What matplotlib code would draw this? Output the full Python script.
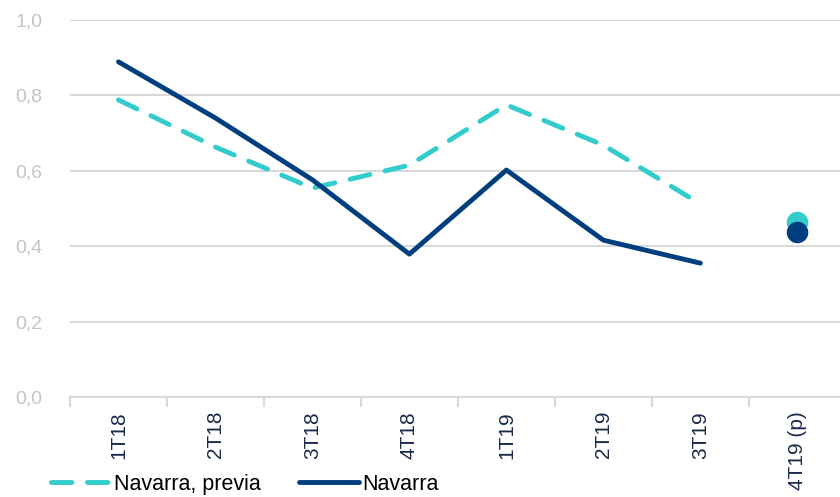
import numpy as np
import matplotlib
matplotlib.use("Agg")
import matplotlib.pyplot as plt

# Datos
trimestres = ["1T18", "2T18", "3T18", "4T18", "1T19", "2T19", "3T19", "4T19 (p)"]
navarra_previa = [0.788, 0.663, 0.554, 0.615, 0.775, 0.668, 0.512]
navarra = [0.889, 0.740, 0.576, 0.379, 0.602, 0.416, 0.355]
prev_4t19_previa = 0.464
prev_4t19 = 0.438

TEAL = "#33CCCC"
NAVY = "#003F7F"
GRID = "#D9D9D9"

plt.rcParams["font.family"] = ["Liberation Sans", "DejaVu Sans"]

fig = plt.figure(figsize=(8.4, 4.97), dpi=100)
ax = fig.add_axes([70 / 840, 100 / 497, 770 / 840, 377 / 497])

x = np.arange(len(navarra))
ax.plot(x, navarra_previa, color=TEAL, lw=3.5, dashes=(4.2, 3.2),
        dash_capstyle="round", label="Navarra, previa", zorder=3)
ax.plot(x, navarra, color=NAVY, lw=3.5, solid_capstyle="round",
        label="Navarra", zorder=4)
ax.plot([7], [prev_4t19_previa], "o", color=TEAL, ms=14.5, zorder=5)
ax.plot([7], [prev_4t19], "o", color=NAVY, ms=14.5, zorder=6)

ax.set_ylim(0, 1.0)
ax.set_xlim(-0.5, 7.44)
ax.set_yticks(np.arange(0, 1.01, 0.2))
ax.set_yticklabels([f"{v:.1f}".replace(".", ",") for v in np.arange(0, 1.01, 0.2)])
ax.yaxis.grid(True, color=GRID, lw=1.5)
ax.set_axisbelow(True)
ax.tick_params(axis="y", length=0, pad=20, labelsize=14, labelcolor="#C4C4C4")

ax.set_xticks(np.arange(len(trimestres)))
ax.set_xticklabels(trimestres, rotation=90, va="top")
ax.tick_params(axis="x", which="major", length=0, pad=10, labelsize=15,
               labelcolor="#1B2A4A")
ax.set_xticks(np.arange(-0.5, 7.5, 1), minor=True)
ax.tick_params(axis="x", which="minor", length=7, width=1.5, color=GRID)

for s in ["top", "right", "left"]:
    ax.spines[s].set_visible(False)
ax.spines["bottom"].set_color(GRID)
ax.spines["bottom"].set_linewidth(1.5)

fig.legend(loc="lower left", bbox_to_anchor=(0.045, -0.022), ncol=2,
           frameon=False, handlelength=2.8, handletextpad=0.15,
           columnspacing=1.75, borderaxespad=0.2,
           prop={"family": ["Liberation Sans", "DejaVu Sans"], "size": 15.5})

fig.savefig("out.png", dpi=100)
